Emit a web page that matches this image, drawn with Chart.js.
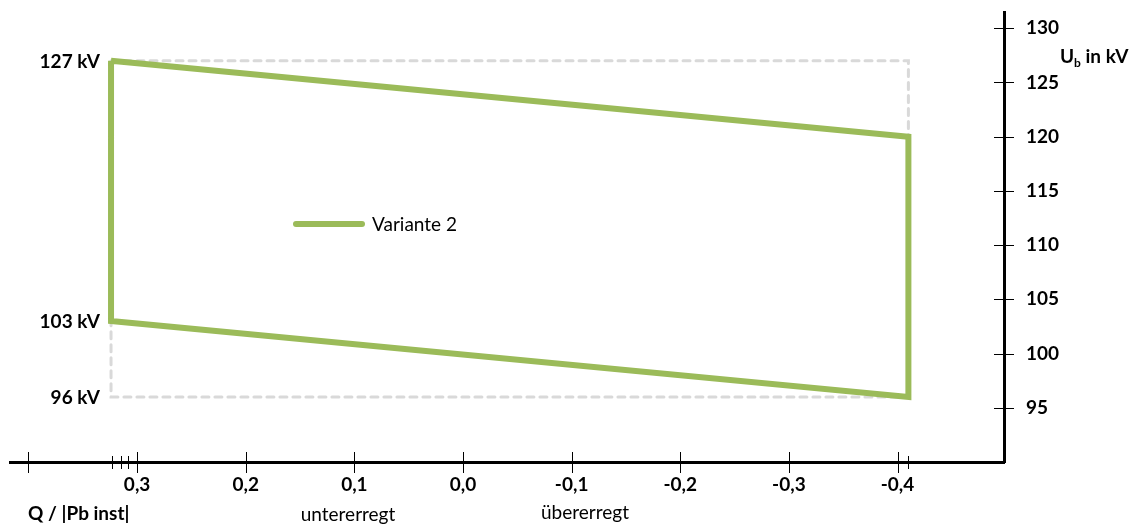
<!DOCTYPE html>
<html lang="de">

<head>
    <meta charset="UTF-8">
    <title>Variante 2 - Spannungsband</title>
    <script src="https://cdn.jsdelivr.net/npm/chart.js"></script>
    <style>
        body {
            margin: 0;
            background-color: #ffffff;
        }

        #wrap {
            width: 1136px;
            height: 525px;
        }
    </style>
</head>

<body>
    <div id="wrap">
        <canvas id="chart" width="1136" height="525"></canvas>
    </div>

    <script>
        // Variante 2 (gruene Linie)
        const variantQ = [0.324, -0.41, -0.41, 0.324, 0.324];
        const variantU = [127, 120, 96, 103, 127];

        // graue gestrichelte Huellkurve
        const envelopeQ = [0.324, -0.41, -0.41, 0.324, 0.324];
        const envelopeU = [127, 127, 96, 96, 103];

        // Achsen
        const xTicks = [0.4, 0.323, 0.315, 0.308, 0.3, 0.2, 0.1, 0, -0.1, -0.2, -0.3, -0.4, -0.41];
        const xMinorTicks = [0.323, 0.315, 0.308, -0.41];
        const xLabelled = [0.3, 0.2, 0.1, 0, -0.1, -0.2, -0.3, -0.4];
        const yTicks = [95, 100, 105, 110, 115, 120, 125, 130];
        const sideLabels = [127, 103, 96];

        const GREEN = '#9bbb59';
        const FONT = 'Lato, "Open Sans", sans-serif';

        function toPoints(xs, ys) {
            return xs.map((x, i) => ({ x: x, y: ys[i] }));
        }

        // Tickmarks die die Achse kreuzen, Beschriftungen, Legende
        const extras = {
            id: 'extras',
            afterDraw(chart) {
                const ctx = chart.ctx;
                const xs = chart.scales.x;
                const ys = chart.scales.y;
                const area = chart.chartArea;
                ctx.save();
                ctx.strokeStyle = '#000';
                ctx.lineWidth = 1;

                // x tickmarks
                xTicks.forEach(v => {
                    const px = Math.round(xs.getPixelForValue(v)) + 0.5;
                    const len = xMinorTicks.includes(v) ? 6 : 10;
                    ctx.beginPath();
                    ctx.moveTo(px, area.bottom - len);
                    ctx.lineTo(px, area.bottom + len + 1);
                    ctx.stroke();
                });

                // y tickmarks
                yTicks.forEach(v => {
                    const py = Math.round(ys.getPixelForValue(v)) + 0.5;
                    ctx.beginPath();
                    ctx.moveTo(area.right - 10, py);
                    ctx.lineTo(area.right + 10, py);
                    ctx.stroke();
                });

                // kV Beschriftung links
                ctx.fillStyle = '#000';
                ctx.font = 'bold 19px ' + FONT;
                ctx.textAlign = 'right';
                ctx.textBaseline = 'middle';
                sideLabels.forEach(v => {
                    ctx.fillText(v + ' kV', 100, ys.getPixelForValue(v) + 1);
                });

                // Achsentitel U_b in kV
                ctx.textAlign = 'left';
                ctx.textBaseline = 'alphabetic';
                ctx.font = 'bold 19px ' + FONT;
                ctx.fillText('U', 1060, 63);
                let w = ctx.measureText('U').width;
                ctx.font = 'bold 12px ' + FONT;
                ctx.fillText('b', 1060 + w, 67);
                w += ctx.measureText('b').width;
                ctx.font = 'bold 19px ' + FONT;
                ctx.fillText(' in kV', 1060 + w, 63);

                // untere Beschriftungen
                ctx.textBaseline = 'middle';
                ctx.font = 'bold 19px ' + FONT;
                ctx.fillText('Q / |Pb inst|', 28, 514);
                ctx.font = '19px ' + FONT;
                ctx.textAlign = 'center';
                ctx.fillText('untererregt', 348, 515);
                ctx.fillText('übererregt', 585, 513);

                // Legende
                const ds = chart.data.datasets[0];
                ctx.strokeStyle = ds.borderColor;
                ctx.lineWidth = 6;
                ctx.lineCap = 'round';
                ctx.beginPath();
                ctx.moveTo(296, 224);
                ctx.lineTo(362, 224);
                ctx.stroke();
                ctx.textAlign = 'left';
                ctx.fillStyle = '#000';
                ctx.font = '19px ' + FONT;
                ctx.fillText(ds.label, 372, 225);
                ctx.restore();
            }
        };

        new Chart(document.getElementById('chart'), {
            type: 'scatter',
            data: {
                datasets: [{
                    label: 'Variante 2',
                    data: toPoints(variantQ, variantU),
                    showLine: true,
                    borderColor: GREEN,
                    borderWidth: 6,
                    borderJoinStyle: 'miter',
                    pointRadius: 0,
                    order: 0
                }, {
                    label: 'Hüllkurve',
                    data: toPoints(envelopeQ, envelopeU),
                    showLine: true,
                    borderColor: '#d9d9d9',
                    borderWidth: 3,
                    borderDash: [7, 6],
                    borderCapStyle: 'round',
                    pointRadius: 0,
                    order: 1
                }]
            },
            options: {
                responsive: false,
                animation: false,
                layout: {
                    padding: { left: 10, top: 12, right: 0, bottom: 0 }
                },
                plugins: {
                    legend: { display: false },
                    tooltip: { enabled: false }
                },
                scales: {
                    x: {
                        type: 'linear',
                        reverse: true,
                        min: -0.498,
                        max: 0.417,
                        afterBuildTicks: s => { s.ticks = xTicks.map(v => ({ value: v })); },
                        afterFit: s => {
                            s.height = 63;
                            s.paddingLeft = 0;
                            s.paddingRight = 0;
                        },
                        grid: { display: false, drawTicks: false, tickLength: 0 },
                        border: { display: true, color: '#000', width: 3 },
                        ticks: {
                            autoSkip: false,
                            maxRotation: 0,
                            padding: 11,
                            color: '#000',
                            font: { family: FONT, size: 19, weight: 'bold' },
                            callback: v => xLabelled.some(t => Math.abs(t - v) < 1e-6)
                                ? v.toFixed(1).replace('.', ',') : ''
                        }
                    },
                    y: {
                        type: 'linear',
                        position: 'right',
                        min: 90,
                        max: 131.5,
                        afterBuildTicks: s => { s.ticks = yTicks.map(v => ({ value: v })); },
                        afterFit: s => {
                            s.width = 132;
                            s.paddingTop = 0;
                            s.paddingBottom = 0;
                        },
                        grid: { display: false, drawTicks: false, tickLength: 0 },
                        border: { display: true, color: '#000', width: 3 },
                        ticks: {
                            padding: 22,
                            color: '#000',
                            font: { family: FONT, size: 19, weight: 'bold' }
                        }
                    }
                }
            },
            plugins: [extras]
        });
    </script>
</body>

</html>
